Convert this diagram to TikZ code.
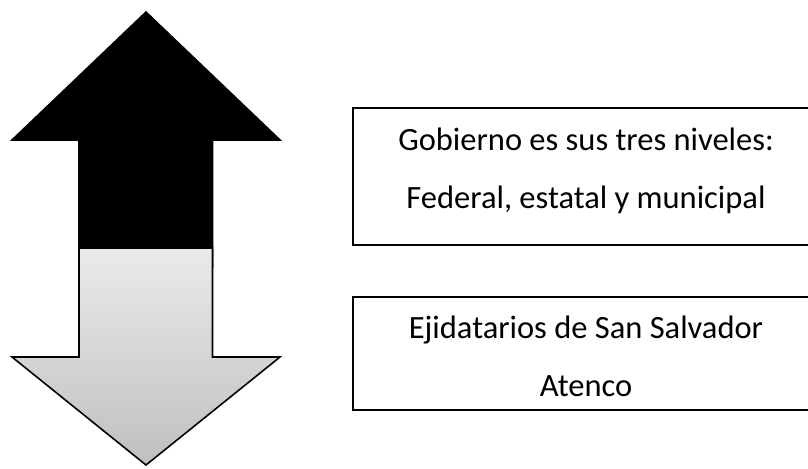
\documentclass[tikz,border=0pt]{standalone}
\usepackage{fontspec}
\setmainfont{Carlito}
\tikzset{
  caja/.style={draw, line width=1.1pt, minimum width=9.32cm, align=center, font=\fontsize{18.5}{33}\selectfont},
  flecha/.style={draw=black, line width=0.9pt, line join=miter}
}
\begin{document}
\begin{tikzpicture}[x=0.02cm, y=-0.02cm]
            \useasboundingbox (0,0) rectangle (808,468);
            \draw[flecha, fill=black] (146,12) -- (280,140) -- (212.5,140) -- (212.5,267) -- (79,267) -- (79,140) -- (12,140) -- cycle;
            \draw[flecha, top color=black!8, bottom color=black!25] (79,248) -- (212.5,248) -- (212.5,357) -- (280,357) -- (146,465) -- (12,357) -- (79,357) -- cycle;
            \node[caja, minimum height=2.74cm] (gobierno) at (586,176.5) {Gobierno es sus tres niveles:\\Federal, estatal y municipal\rule[-0.34cm]{0pt}{0pt}};
            \node[caja, minimum height=2.26cm] (ejidatarios) at (586,353.5) {\rule{0pt}{0.55cm}Ejidatarios de San Salvador\\Atenco};
        \end{tikzpicture}
\end{document}
